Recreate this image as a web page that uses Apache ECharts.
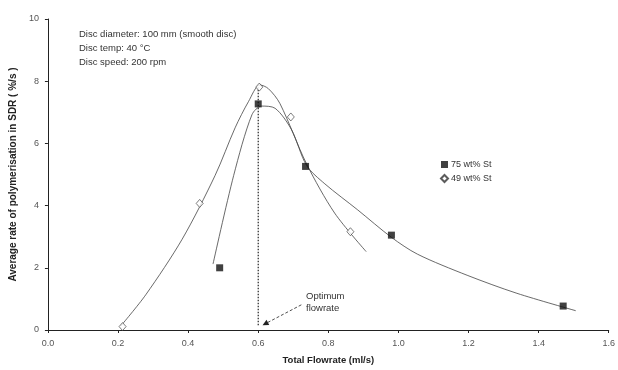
<!DOCTYPE html>
<html>
<head>
<meta charset="utf-8">
<script src="https://cdn.jsdelivr.net/npm/echarts@6/dist/echarts.min.js"></script>
<style>
html,body{margin:0;padding:0;background:#fff;}
#c{width:618px;height:370px;}
</style>
</head>
<body>
<div id="c"></div>
<script>
// Measured points
var x75 = [0.49, 0.60, 0.735, 0.98, 1.47];
var y75 = [2.0, 7.27, 5.26, 3.05, 0.77];
var x49 = [0.213, 0.433, 0.603, 0.693, 0.863];
var y49 = [0.11, 4.07, 7.81, 6.85, 3.16];

// Trend lines
var trend75X = [0.471, 0.53, 0.582, 0.61, 0.648, 0.695, 0.738, 0.79, 0.884, 0.98, 1.054, 1.196, 1.338, 1.506];
var trend75Y = [2.12, 4.97, 6.92, 7.2, 7.13, 6.44, 5.29, 4.7, 3.86, 2.98, 2.44, 1.76, 1.18, 0.62];
var trend49X = [0.208, 0.279, 0.383, 0.477, 0.534, 0.572, 0.605, 0.629, 0.662, 0.738, 0.818, 0.908];
var trend49Y = [0.13, 1.13, 2.92, 4.97, 6.5, 7.34, 7.88, 7.76, 7.28, 5.34, 3.76, 2.52];

// Optimum marker
var optimumLineX = [0.6, 0.6];
var optimumLineY = [0.15, 7.8];
var arrowFrom = [0.723, 0.81];
var arrowTo = [0.62, 0.2];

// Axis ticks
var xTicks = [0.0, 0.2, 0.4, 0.6, 0.8, 1.0, 1.2, 1.4, 1.6];
var yTicks = [0, 2, 4, 6, 8, 10];

var seriesNames = ['75 wt% St', '49 wt% St'];
var noteLines = ['Disc diameter: 100 mm (smooth disc)', 'Disc temp: 40 \u00B0C', 'Disc speed: 200 rpm'];

function zip(a, b) { return a.map(function (v, i) { return [v, b[i]]; }); }

var chart = echarts.init(document.getElementById('c'), null, {renderer: 'canvas'});
var axisCommon = {
  axisLine: {show: true, lineStyle: {color: '#222', width: 1}},
  axisTick: {show: true, inside: false, length: 3, lineStyle: {color: '#222'}},
  splitLine: {show: false},
  axisLabel: {fontSize: 9, color: '#555', fontFamily: 'Liberation Sans, Arial, sans-serif', margin: 9}
};
var option = {
  animation: false,
  backgroundColor: '#fff',
  grid: {left: 45, right: 7, top: 19, bottom: 34, containLabel: false},
  xAxis: Object.assign({}, axisCommon, {
    type: 'value', min: xTicks[0], max: xTicks[xTicks.length - 1], interval: 0.2,
    axisLabel: Object.assign({}, axisCommon.axisLabel, {formatter: function (v) { return v.toFixed(1); }}),
    name: 'Total Flowrate (ml/s)', nameLocation: 'middle', nameGap: 25,
    nameTextStyle: {fontSize: 9.5, fontWeight: 'bold', color: '#222', fontFamily: 'Liberation Sans, Arial, sans-serif'}
  }),
  yAxis: Object.assign({}, axisCommon, {
    type: 'value', min: yTicks[0], max: yTicks[yTicks.length - 1], interval: 2,
    name: 'Average rate of polymerisation in SDR ( %/s )', nameLocation: 'middle', nameGap: 26, nameRotate: 90,
    nameTextStyle: {fontSize: 10, fontWeight: 'bold', color: '#222', fontFamily: 'Liberation Sans, Arial, sans-serif'}
  }),
  legend: {
    data: seriesNames, orient: 'vertical', left: 435, top: 155, itemGap: 5,
    itemWidth: 7, itemHeight: 7,
    textStyle: {fontSize: 9, color: '#333', fontFamily: 'Liberation Sans, Arial, sans-serif', padding: [0, 0, 0, -2]}
  },
  graphic: [
    {type: 'text', left: 79, top: 27, style: {text: noteLines.join('\n'), fontSize: 9.5, lineHeight: 14, fill: '#333', fontFamily: 'Liberation Sans, Arial, sans-serif'}},
    {type: 'text', left: 306, top: 290, style: {text: 'Optimum\nflowrate', fontSize: 9.5, lineHeight: 12, fill: '#333', fontFamily: 'Liberation Sans, Arial, sans-serif'}}
  ],
  series: [
    {
      name: 'trend75', type: 'line', data: zip(trend75X, trend75Y), smooth: 0.3,
      showSymbol: false, symbol: 'none', lineStyle: {color: '#444', width: 0.8}, silent: true, z: 2
    },
    {
      name: 'trend49', type: 'line', data: zip(trend49X, trend49Y), smooth: 0.3,
      showSymbol: false, symbol: 'none', lineStyle: {color: '#444', width: 0.8}, silent: true, z: 2
    },
    {
      name: 'optimum', type: 'line', data: zip(optimumLineX, optimumLineY), symbol: 'none',
      lineStyle: {color: '#222', width: 1.2, type: [1.5, 1.5]}, silent: true, z: 1,
      markLine: {
        silent: true, animation: false, symbol: ['none', 'triangle'], symbolSize: [6, 6],
        label: {show: false},
        lineStyle: {color: '#222', width: 0.8, type: [3, 2]},
        data: [[{coord: arrowFrom, symbol: 'none'}, {coord: arrowTo, symbol: 'triangle'}]]
      }
    },
    {
      name: seriesNames[0], type: 'scatter', data: zip(x75, y75), symbol: 'rect', symbolSize: 7,
      itemStyle: {color: '#111', borderColor: '#111', borderWidth: 0}, z: 5
    },
    {
      name: seriesNames[1], type: 'scatter', data: zip(x49, y49), symbol: 'diamond', symbolSize: [7, 8],
      itemStyle: {color: '#fff', borderColor: '#333', borderWidth: 0.8}, z: 5
    }
  ]
};
chart.setOption(option);
</script>
</body>
</html>
